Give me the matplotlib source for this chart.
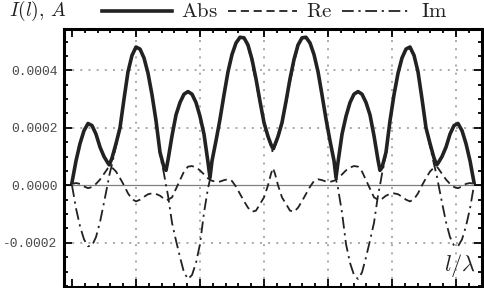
import numpy as np
import matplotlib
matplotlib.use('Agg')
import matplotlib.pyplot as plt
from matplotlib.lines import Line2D
from matplotlib.ticker import MultipleLocator, FixedLocator, NullFormatter

plt.rcParams['mathtext.fontset'] = 'cm'

# ---- data (x in units where the wire spans 0..2*pi; y in units of 1e-4 A) ----
x = [0, 0.0625, 0.125, 0.1875, 0.25, 0.3125, 0.375, 0.4375, 0.5, 0.5625,
     0.583, 0.625, 0.6875, 0.75, 0.8125, 0.875, 0.9375, 1.0, 1.0625, 1.125,
     1.1875, 1.25, 1.3125, 1.375, 1.4375, 1.469, 1.5, 1.5625, 1.625, 1.6875,
     1.75, 1.8125, 1.875, 1.9375, 2.0, 2.0625, 2.125, 2.156, 2.1875, 2.25,
     2.3125, 2.375, 2.4375, 2.5, 2.5625, 2.625, 2.6875, 2.75, 2.8125, 2.875,
     2.9375, 3.0, 3.0625, 3.109, 3.1406,
     3.172, 3.219, 3.281, 3.344, 3.406, 3.469, 3.531, 3.594, 3.656, 3.719,
     3.781, 3.844, 3.906, 3.969, 4.031, 4.094, 4.125, 4.156, 4.219, 4.281,
     4.344, 4.406, 4.469, 4.531, 4.594, 4.656, 4.719, 4.781, 4.812, 4.844,
     4.906, 4.969, 5.031, 5.094, 5.156, 5.219, 5.281, 5.344, 5.406, 5.469,
     5.531, 5.594, 5.656, 5.698, 5.719, 5.781, 5.844, 5.906, 5.969, 6.031,
     6.094, 6.156, 6.219, 6.281]

abs_e4 = [0.10, 0.85, 1.45, 1.90, 2.15, 2.08, 1.78, 1.33, 1.00, 0.77,
          0.71, 0.95, 1.45, 2.00, 3.00, 3.95, 4.52, 4.81, 4.74, 4.43,
          3.90, 3.15, 2.25, 1.15, 0.62, 0.52, 0.88, 1.72, 2.45, 2.88,
          3.17, 3.26, 3.17, 2.88, 2.40, 1.78, 0.80, 0.27, 0.85, 1.55,
          2.30, 3.15, 3.95, 4.55, 4.95, 5.15, 5.13, 4.88, 4.38, 3.70,
          2.92, 2.18, 1.70, 1.42, 1.27,
          1.42, 1.70, 2.18, 2.92, 3.70, 4.38, 4.88, 5.13, 5.15, 4.95,
          4.55, 3.95, 3.15, 2.30, 1.55, 0.85, 0.27, 0.80, 1.78, 2.40,
          2.88, 3.17, 3.26, 3.17, 2.88, 2.45, 1.72, 0.88, 0.52, 0.62,
          1.15, 2.25, 3.15, 3.90, 4.43, 4.74, 4.81, 4.52, 3.95, 3.00,
          2.00, 1.45, 0.95, 0.71, 0.77, 1.00, 1.33, 1.78, 2.08, 2.15,
          1.90, 1.45, 0.85, 0.10]

re_e4 = [0.05, 0.08, 0.05, -0.04, -0.10, -0.06, 0.05, 0.20, 0.40, 0.60,
         0.64, 0.62, 0.48, 0.25, 0.00, -0.28, -0.48, -0.56, -0.50, -0.40,
         -0.31, -0.28, -0.30, -0.36, -0.47, -0.52, -0.50, -0.42, -0.12, 0.18,
         0.48, 0.65, 0.67, 0.62, 0.52, 0.38, 0.24, 0.20, 0.16, 0.12,
         0.13, 0.18, 0.21, 0.15, -0.05, -0.30, -0.55, -0.78, -0.92, -0.88,
         -0.65, -0.42, 0.00, 0.40, 0.60,
         0.40, 0.00, -0.42, -0.65, -0.88, -0.92, -0.78, -0.55, -0.30, -0.05,
         0.15, 0.21, 0.18, 0.13, 0.12, 0.16, 0.20, 0.24, 0.38, 0.52,
         0.62, 0.67, 0.65, 0.48, 0.18, -0.12, -0.42, -0.50, -0.52, -0.47,
         -0.36, -0.30, -0.28, -0.31, -0.40, -0.50, -0.56, -0.48, -0.28, 0.00,
         0.25, 0.48, 0.62, 0.64, 0.60, 0.40, 0.20, 0.05, -0.06, -0.10,
         -0.04, 0.05, 0.08, 0.05]

im_e4 = [0.00, -0.80, -1.42, -1.88, -2.12, -2.10, -1.80, -1.28, -0.60, 0.10,
         0.35, 0.73, 1.37, 1.98, 2.98, 3.93, 4.49, 4.78, 4.71, 4.41,
         3.88, 3.13, 2.23, 1.08, 0.40, 0.00, -0.35, -1.30, -1.92, -2.50,
         -3.03, -3.26, -3.12, -2.70, -2.04, -0.95, -0.10, 0.20, 0.80, 1.53,
         2.28, 3.13, 3.93, 4.53, 4.93, 5.13, 5.11, 4.82, 4.28, 3.58,
         2.85, 2.14, 1.66, 1.36, 1.12,
         1.36, 1.66, 2.14, 2.85, 3.58, 4.28, 4.82, 5.11, 5.13, 4.93,
         4.53, 3.93, 3.13, 2.28, 1.53, 0.80, 0.20, -0.10, -0.95, -2.04,
         -2.70, -3.12, -3.26, -3.03, -2.50, -1.92, -1.30, -0.35, 0.00, 0.40,
         1.08, 2.23, 3.13, 3.88, 4.41, 4.71, 4.78, 4.49, 3.93, 2.98,
         1.98, 1.37, 0.73, 0.35, 0.10, -0.60, -1.28, -1.80, -2.10, -2.12,
         -1.88, -1.42, -0.80, 0.00]

unit = 1e-4
y_ticks = [-0.0002, 0.0, 0.0002, 0.0004]
y_tick_labels = ['-0.0002', '0.0000', '0.0002', '0.0004']
x_grid = [1, 2, 3, 4, 5, 6]
y_grid = [-0.0002, 0.0002, 0.0004]
series_labels = ['Abs', 'Re', 'Im']

# ---- figure ----
W, H = 484, 288
fig = plt.figure(figsize=(W / 100, H / 100), dpi=100)
ax = fig.add_axes([64 / W, 1 / H, 418 / W, 258 / H])

xv = np.array(x)
col = '#222222'
ax.plot(xv, np.array(re_e4) * unit, color=col, lw=1.3,
        ls=(0, (4.5, 2.6)), zorder=2)
ax.plot(xv, np.array(im_e4) * unit, color=col, lw=1.3,
        ls=(0, (6.5, 2.6, 1.2, 2.6)), zorder=2)
ax.plot(xv, np.array(abs_e4) * unit, color=col, lw=2.6, zorder=3,
        solid_joinstyle='round')

ax.set_xlim(-0.125, 6.406)
ax.set_ylim(-3.537e-4, 5.437e-4)

ax.axhline(0, color='#808080', lw=0.9, zorder=1)
for gx in x_grid:
    ax.axvline(gx, color='#a8a8a8', lw=1.4, ls=(0, (1, 3.2)), zorder=0)
for gy in y_grid:
    ax.axhline(gy, color='#a8a8a8', lw=1.4, ls=(0, (1, 3.2)), zorder=0)

for s in ax.spines.values():
    s.set_linewidth(2.2)
    s.set_color('black')

ax.xaxis.set_major_locator(FixedLocator([0, 1, 2, 3, 4, 5, 6]))
ax.xaxis.set_minor_locator(MultipleLocator(0.2))
ax.yaxis.set_major_locator(FixedLocator(y_ticks))
ax.yaxis.set_minor_locator(MultipleLocator(0.00005))
ax.xaxis.set_major_formatter(NullFormatter())
ax.set_yticklabels(y_tick_labels)
ax.tick_params(which='both', direction='in', top=True, right=True,
               width=1.3, color='black')
ax.tick_params(which='major', length=5.5)
ax.tick_params(which='minor', length=3.2)
ax.tick_params(axis='y', which='major', pad=4.8, labelsize=9.4,
               labelcolor='#4a4a4a')
for lab in ax.get_yticklabels():
    lab.set_family('Liberation Mono')

# ---- labels ----
fig.text(9 / W, 1 - 11 / H, r'$I(l),\,A$', fontsize=14, ha='left',
         va='center', color='#222222')
fig.text(476 / W, 17 / H, r'$l/\lambda$', fontsize=16, ha='right',
         va='baseline', color='#222222')

# ---- legend ----
styles = [dict(lw=2.6, ls='-'),
          dict(lw=1.3, ls=(0, (4.5, 2.6))),
          dict(lw=1.3, ls=(0, (6.5, 2.6, 1.2, 2.6)))]
line_spans = [(102, 172), (228, 297), (342, 410)]
text_x = [181, 306, 421]
ly = 1 - 11 / H
for lab, st, (a, b), tx in zip(series_labels, styles, line_spans, text_x):
    fig.add_artist(Line2D([a / W, b / W], [ly, ly], color=col,
                          transform=fig.transFigure, **st))
    fig.text(tx / W, ly, r'$\mathrm{' + lab + '}$', fontsize=15,
             ha='left', va='center', color='#222222')

fig.savefig('out.png', dpi=100)
